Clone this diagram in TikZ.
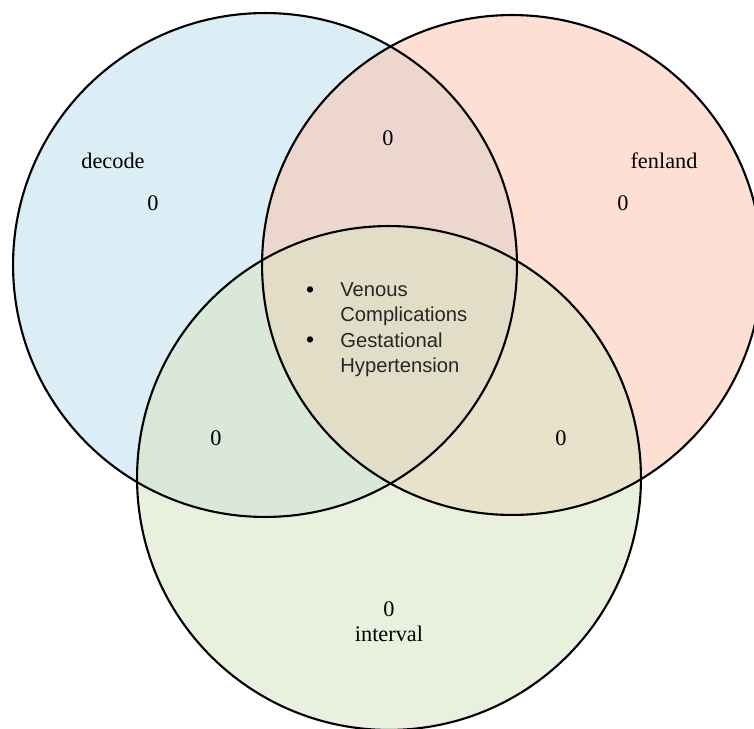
\documentclass[tikz,border=0pt]{standalone}
\usepackage{fontspec}
\setmainfont{Liberation Serif}
\setsansfont{Liberation Sans}
\tikzset{setfill/.style={fill opacity=0.55},
         setline/.style={draw=black, line width=1.2pt},
         lbl/.style={font=\fontsize{12.7}{15}\selectfont, inner sep=0pt},
         item/.style={font=\sffamily\fontsize{11.5}{14.2}\selectfont, align=left, anchor=west, inner sep=0pt, text=black!85},
         dot/.style={font=\sffamily\fontsize{13}{14}\selectfont, inner sep=0pt}
}
\definecolor{setblue}{RGB}{190,222,236}
\definecolor{setred}{RGB}{252,196,174}
\definecolor{setgreen}{RGB}{216,228,195}

\begin{document}
\begin{tikzpicture}[x=0.02cm, y=-0.02cm]
       \useasboundingbox (0,0) rectangle (754,729);
       \clip (0,0) rectangle (754,729);
       \coordinate (cA) at (265,265);
       \coordinate (cB) at (512,265);
       \coordinate (cC) at (389,478);
       % fills first, outlines on top
       \fill[setfill, setblue]  (cA) circle[radius=5.04cm];
       \fill[setfill, setred]   (cB) circle[radius=5.00cm];
       \fill[setfill, setgreen] (cC) circle[radius=5.04cm];
       \draw[setline] (cA) circle[radius=5.04cm];
       \draw[setline] (cB) circle[radius=5.00cm];
       \draw[setline] (cC) circle[radius=5.04cm];
       \node[lbl] (nA) at (113,161) {decode};
       \node[lbl] (nB) at (664,161) {fenland};
       \node[lbl] (nC) at (389,634) {interval};
       \node[lbl] (vA) at (153,203) {0};
       \node[lbl] (vB) at (623,203) {0};
       \node[lbl] (vC) at (389,609) {0};
       \node[lbl] (vAB) at (388,138) {0};
       \node[lbl] (vAC) at (216,438) {0};
       \node[lbl] (vBC) at (561,438) {0};
       \node[dot] (d1) at (310,292) {\textbullet};
       \node[dot] (d2) at (310,342) {\textbullet};
       \node[item] (i1) at (340,304.5) {Venous\\Complications};
       \node[item] (i2) at (340,354.5) {Gestational\\Hypertension};
    \end{tikzpicture}
\end{document}
